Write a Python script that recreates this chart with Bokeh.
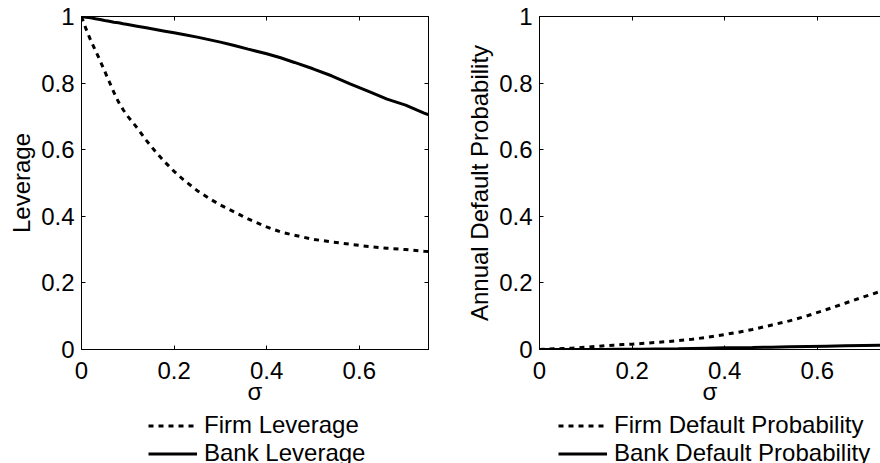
from bokeh.plotting import figure
from bokeh.models import Legend, LegendItem, LinearAxis, FixedTicker, Range1d, ColumnDataSource
from bokeh.layouts import row, column
from bokeh.embed import file_html
from bokeh.resources import INLINE

# ---- data ----
sigma = [0.0, 0.01, 0.02, 0.03, 0.04, 0.05, 0.06, 0.07, 0.08, 0.09, 0.10,
         0.12, 0.14, 0.16, 0.18, 0.20, 0.22, 0.25, 0.28, 0.30, 0.33, 0.36,
         0.40, 0.43, 0.46, 0.50, 0.54, 0.58, 0.62, 0.66, 0.70, 0.74, 0.75]
firm_leverage = [1.0, 0.962, 0.928, 0.898, 0.868, 0.836, 0.804, 0.772, 0.743, 0.720, 0.700,
                 0.666, 0.628, 0.594, 0.563, 0.535, 0.510, 0.477, 0.450, 0.434, 0.413, 0.392,
                 0.368, 0.353, 0.343, 0.331, 0.323, 0.316, 0.309, 0.304, 0.300, 0.295, 0.294]
bank_leverage = [1.0, 0.998, 0.996, 0.993, 0.991, 0.988, 0.986, 0.983, 0.981, 0.978, 0.976,
                 0.971, 0.966, 0.961, 0.956, 0.951, 0.946, 0.938, 0.929, 0.923, 0.913, 0.902,
                 0.888, 0.876, 0.862, 0.843, 0.822, 0.798, 0.775, 0.752, 0.734, 0.710, 0.705]
firm_default = [0.0, 0.001, 0.001, 0.002, 0.002, 0.003, 0.003, 0.004, 0.005, 0.006, 0.007,
                0.009, 0.011, 0.013, 0.015, 0.016, 0.018, 0.021, 0.024, 0.027, 0.031, 0.036,
                0.045, 0.052, 0.060, 0.073, 0.086, 0.102, 0.120, 0.139, 0.158, 0.176, 0.181]
bank_default = [0.0, 0.0, 0.0, 0.0, 0.0, 0.0, 0.0, 0.0, 0.0, 0.0, 0.0001,
                0.0002, 0.0003, 0.0004, 0.0004, 0.0005, 0.0008, 0.0012, 0.0016, 0.002, 0.003, 0.004,
                0.005, 0.0055, 0.006, 0.007, 0.008, 0.009, 0.010, 0.011, 0.012, 0.013, 0.0135]

x_ticks = [0, 0.2, 0.4, 0.6]
x_tick_labels = ["0", "0.2", "0.4", "0.6"]
y_ticks = [0, 0.2, 0.4, 0.6, 0.8, 1]
y_tick_labels = ["0", "0.2", "0.4", "0.6", "0.8", "1"]
x_label = "σ"
left_y_label = "Leverage"
right_y_label = "Annual Default Probability"
left_legend_labels = ["Firm Leverage", "Bank Leverage"]
right_legend_labels = ["Firm Default Probability", "Bank Default Probability"]

FONT = "Liberation Sans"
FS = "24px"
MAIN_H = 411
LEG_H = 463 - MAIN_H
TOP = 16
FRAME_H = 333
PX_PER_UNIT = 463.0
DASH = "5 5"


def make_axis(ticks, labels, show_labels, title=None):
    ax = LinearAxis(ticker=FixedTicker(ticks=ticks),
                    major_label_overrides={t: l for t, l in zip(ticks, labels)})
    ax.major_tick_in = 4
    ax.major_tick_out = 0
    ax.minor_tick_in = 0
    ax.minor_tick_out = 0
    ax.axis_line_color = "black"
    ax.major_tick_line_color = "black"
    ax.major_label_text_color = "black"
    ax.major_label_text_font = FONT
    if show_labels:
        ax.major_label_text_font_size = FS
        ax.major_label_standoff = 7
    else:
        ax.major_label_text_font_size = "0px"
        ax.major_label_standoff = 0
    if title is not None:
        ax.axis_label = title
        ax.axis_label_text_font = FONT
        ax.axis_label_text_font_size = FS
        ax.axis_label_text_font_style = "normal"
        ax.axis_label_text_color = "black"
    return ax


def make_panel(width, min_left, frame_w, ylabel, firm, bank, right_side, ylab_standoff):
    p = figure(width=width, height=MAIN_H,
               x_range=Range1d(0, frame_w / PX_PER_UNIT), y_range=Range1d(0, 1),
               output_backend="svg", toolbar_location=None,
               x_axis_location=None, y_axis_location=None,
               min_border_left=min_left, min_border_right=width - min_left - frame_w,
               min_border_top=TOP, min_border_bottom=MAIN_H - TOP - FRAME_H)
    p.frame_align = False
    p.xgrid.visible = False
    p.ygrid.visible = False
    p.outline_line_color = "black" if right_side else None
    p.outline_line_width = 1
    p.background_fill_color = "white"
    p.border_fill_color = "white"

    bx = make_axis(x_ticks, x_tick_labels, True, x_label)
    bx.major_label_standoff = 12
    bx.axis_label_standoff = -4
    p.add_layout(bx, "below")
    ly = make_axis(y_ticks, y_tick_labels, True, ylabel)
    ly.axis_label_standoff = ylab_standoff
    p.add_layout(ly, "left")
    p.add_layout(make_axis(x_ticks, x_tick_labels, False), "above")
    if right_side:
        p.add_layout(make_axis(y_ticks, y_tick_labels, False), "right")

    src = ColumnDataSource(dict(x=sigma, firm=firm, bank=bank))
    p.line("x", "firm", source=src, line_color="black", line_width=3, line_dash=DASH)
    p.line("x", "bank", source=src, line_color="black", line_width=3)
    return p


def make_legend_fig(width, labels, firm, bank, legend_x):
    # the series lie outside this strip's x range, so only the legend is seen
    f = figure(width=width, height=LEG_H, x_range=Range1d(10, 11), y_range=Range1d(0, 1),
               output_backend="svg", toolbar_location=None,
               x_axis_location=None, y_axis_location=None,
               min_border_left=0, min_border_right=0, min_border_top=0, min_border_bottom=0)
    f.frame_align = False
    f.xgrid.visible = False
    f.ygrid.visible = False
    f.outline_line_color = None
    f.background_fill_color = "white"
    f.border_fill_color = "white"
    src = ColumnDataSource(dict(x=sigma, firm=firm, bank=bank))
    r1 = f.line("x", "firm", source=src, line_color="black", line_width=3, line_dash=DASH)
    r2 = f.line("x", "bank", source=src, line_color="black", line_width=3)
    legend = Legend(items=[LegendItem(label=labels[0], renderers=[r1]),
                           LegendItem(label=labels[1], renderers=[r2])],
                    location=(legend_x, -4), orientation="vertical",
                    glyph_width=49, glyph_height=27, label_height=27, label_standoff=7,
                    spacing=0, padding=0, margin=0,
                    border_line_color=None, background_fill_alpha=0,
                    label_text_font=FONT, label_text_font_size=FS, label_text_color="black")
    f.add_layout(legend)
    return f


LEFT_W = 460
RIGHT_W = 880 - LEFT_W
p1 = make_panel(LEFT_W, 81, 347, left_y_label, firm_leverage, bank_leverage, True, 3)
p2 = make_panel(RIGHT_W, 79, RIGHT_W - 79, right_y_label, firm_default, bank_default, False, 3)
l1 = make_legend_fig(LEFT_W, left_legend_labels, firm_leverage, bank_leverage, 148)
l2 = make_legend_fig(RIGHT_W, right_legend_labels, firm_default, bank_default, 558 - LEFT_W)

layout = row(column(p1, l1), column(p2, l2))
open("out.html", "w").write(file_html(layout, INLINE))
